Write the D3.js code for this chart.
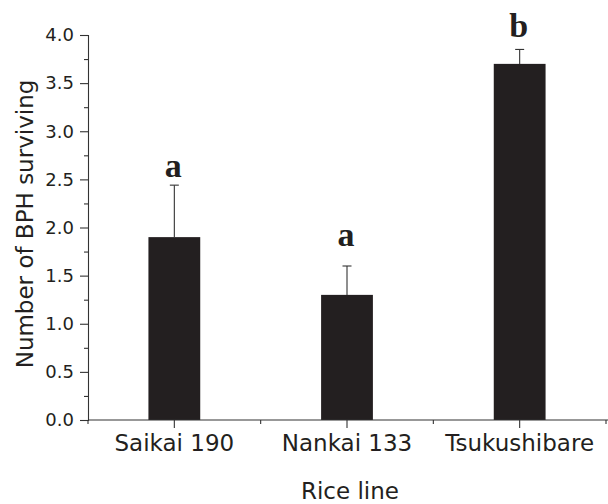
<!DOCTYPE html>
<html>
<head>
<meta charset="utf-8">
<script src="https://cdn.jsdelivr.net/npm/d3@7/dist/d3.min.js"></script>
<style>
  html, body { margin: 0; padding: 0; background: #fff; }
  svg { display: block; }
</style>
</head>
<body>
<svg id="chart" width="608" height="504"></svg>
<script>
// Surviving brown planthoppers per rice line (mean, upper error, significance letter)
const categories = ["Saikai 190", "Nankai 133", "Tsukushibare"];
const means = [1.9, 1.3, 3.7];
const errorTops = [2.44, 1.6, 3.85];
const letters = ["a", "a", "b"];
const yTicks = [0, 0.5, 1, 1.5, 2, 2.5, 3, 3.5, 4];

const ink = "#231f20";
const svg = d3.select("#chart");

const x = d3.scaleBand().domain(categories).range([88, 606]).padding(0);
const y = d3.scaleLinear().domain([0, 4]).range([420, 35]);
const barW = x.bandwidth() * 0.3;

// Bars
svg.append("g").selectAll("rect").data(categories).join("rect")
  .attr("x", (d) => x(d) + x.bandwidth() / 2 - barW / 2)
  .attr("y", (d, i) => y(means[i]))
  .attr("width", barW)
  .attr("height", (d, i) => y(0) - y(means[i]))
  .attr("fill", ink);

// Upper error bars
const eb = svg.append("g").attr("stroke", "#333").attr("stroke-width", 1.1);
categories.forEach((c, i) => {
  const cx = x(c) + x.bandwidth() / 2;
  eb.append("line").attr("x1", cx).attr("x2", cx)
    .attr("y1", y(means[i])).attr("y2", y(errorTops[i]));
  eb.append("line").attr("x1", cx - 4.5).attr("x2", cx + 4.5)
    .attr("y1", y(errorTops[i])).attr("y2", y(errorTops[i]));
});

// Significance letters
const letterGap = [8, 20, 12];
svg.append("g").selectAll("text").data(categories).join("text")
  .attr("x", (d) => x(d) + x.bandwidth() / 2 - 1)
  .attr("y", (d, i) => y(errorTops[i]) - letterGap[i])
  .attr("text-anchor", "middle")
  .attr("font-family", "'Liberation Serif', 'Times New Roman', serif")
  .attr("font-weight", "bold")
  .attr("font-size", 34)
  .attr("fill", ink)
  .text((d, i) => letters[i]);

// Y axis with major and minor ticks
const yAxis = svg.append("g").attr("transform", "translate(88,0)")
  .call(d3.axisLeft(y).tickValues(yTicks).tickFormat(d3.format(".1f")).tickSize(8).tickPadding(6));
svg.append("g").attr("transform", "translate(88,0)")
  .call(d3.axisLeft(y).tickValues(d3.range(0.25, 4, 0.5)).tickFormat("").tickSize(4))
  .select(".domain").remove();

// X axis: labels at category centres, minor ticks at band edges
const xAxis = svg.append("g").attr("transform", "translate(0,420)")
  .call(d3.axisBottom(x).tickSize(8).tickPadding(7));
xAxis.select(".domain").attr("d", "M88,0H608");
const edges = categories.map((c) => x(c)).concat([x.range()[1]]);
svg.append("g").attr("transform", "translate(0,420)")
  .selectAll("line").data(edges).join("line")
  .attr("x1", (d) => d).attr("x2", (d) => d)
  .attr("y1", 0).attr("y2", 4);

svg.selectAll(".domain, .tick line, g > line").attr("stroke", "#333").attr("stroke-width", 1.1);
yAxis.selectAll("text").attr("font-size", 18);
xAxis.selectAll("text").attr("font-size", 23);
svg.selectAll(".tick text")
  .attr("font-family", "'DejaVu Sans', Verdana, sans-serif")
  .attr("fill", ink);

// Axis titles
svg.append("text")
  .attr("transform", "translate(33,224) rotate(-90)")
  .attr("text-anchor", "middle")
  .attr("font-family", "'DejaVu Sans', Verdana, sans-serif")
  .attr("font-size", 23)
  .attr("fill", ink)
  .text("Number of BPH surviving");
svg.append("text")
  .attr("x", 350).attr("y", 499)
  .attr("text-anchor", "middle")
  .attr("font-family", "'DejaVu Sans', Verdana, sans-serif")
  .attr("font-size", 23)
  .attr("fill", ink)
  .text("Rice line");
</script>
</body>
</html>
